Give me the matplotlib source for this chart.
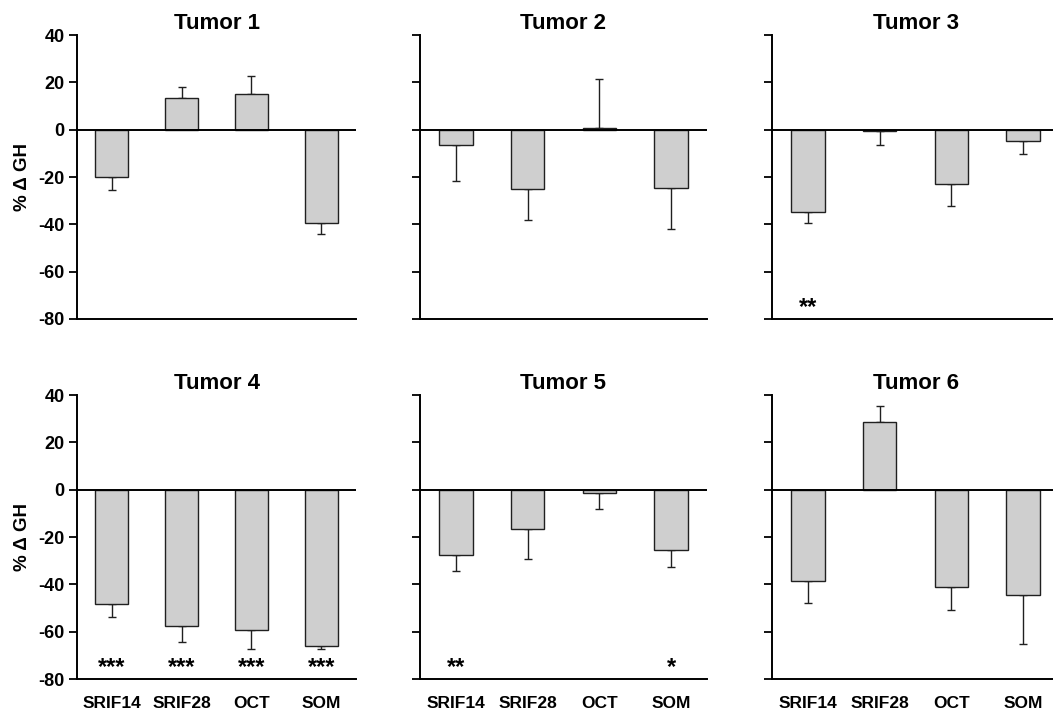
import matplotlib
matplotlib.use('Agg')
import matplotlib.pyplot as plt

plt.rcParams['font.family'] = ['Liberation Sans', 'DejaVu Sans']
plt.rcParams['font.weight'] = 'bold'
plt.rcParams['axes.unicode_minus'] = False

# Categories and values (% change in GH, mean and SEM)
categories = ['SRIF14', 'SRIF28', 'OCT', 'SOM']
titles = ['Tumor 1', 'Tumor 2', 'Tumor 3', 'Tumor 4', 'Tumor 5', 'Tumor 6']

tumor1 = [-20.0, 13.4, 15.1, -39.6]
tumor2 = [-6.5, -25.0, 0.5, -24.5]
tumor3 = [-35.0, -0.5, -23.0, -4.8]
tumor4 = [-48.2, -57.8, -59.4, -65.9]
tumor5 = [-27.8, -16.6, -1.5, -25.6]
tumor6 = [-38.6, 28.5, -41.3, -44.6]

err1 = [5.6, 4.6, 7.6, 4.5]
err2 = [15.0, 13.0, 21.0, 17.5]
err3 = [4.5, 6.0, 9.4, 5.5]
err4 = [5.4, 6.6, 7.8, 1.5]
err5 = [6.4, 12.7, 6.5, 7.0]
err6 = [9.1, 6.9, 9.5, 20.4]

stars1 = ['', '', '', '']
stars2 = ['', '', '', '']
stars3 = ['**', '', '', '']
stars4 = ['***', '***', '***', '***']
stars5 = ['**', '', '', '*']
stars6 = ['', '', '', '']

values = [tumor1, tumor2, tumor3, tumor4, tumor5, tumor6]
errors = [err1, err2, err3, err4, err5, err6]
stars = [stars1, stars2, stars3, stars4, stars5, stars6]

W, H = 1053, 711
fig = plt.figure(figsize=(W / 100, H / 100), dpi=100)

# panel boxes in pixels: left, top, width, height
lefts = [77, 420, 772]
widths = [279, 287, 287]
tops = [35, 395]
height = 284

x = list(range(len(categories)))
for i in range(6):
    r, c = divmod(i, 3)
    l, t, w = lefts[c], tops[r], widths[c]
    ax = fig.add_axes([l / W, 1 - (t + height) / H, w / W, height / H])

    vals = values[i]
    errs = errors[i]
    lower = [e if v < 0 else 0 for v, e in zip(vals, errs)]
    upper = [e if v >= 0 else 0 for v, e in zip(vals, errs)]
    ax.bar(x, vals, width=0.47, color='#cfcfcf', edgecolor='#202020', linewidth=1.0, zorder=2)
    ax.errorbar(x, vals, yerr=[lower, upper], fmt='none', ecolor='#202020',
                elinewidth=1.0, capsize=3, capthick=1.0, zorder=1)
    ax.axhline(0, color='black', linewidth=1.4, zorder=3)

    for xi, s in zip(x, stars[i]):
        if s:
            ax.text(xi, -75, s, ha='center', va='center', fontsize=17, fontweight='bold')

    ax.set_xlim(-0.5, 3.5)
    ax.set_ylim(-80, 40)
    ax.set_yticks(range(-80, 41, 20))
    ax.spines['top'].set_visible(False)
    ax.spines['right'].set_visible(False)
    ax.spines['left'].set_linewidth(1.4)
    ax.spines['bottom'].set_linewidth(1.4)
    ax.tick_params(axis='y', direction='out', length=6, width=1.3, pad=3, labelsize=13)
    ax.tick_params(axis='x', length=0, pad=12, labelsize=12.5)
    ax.set_title(titles[i], fontsize=16, fontweight='bold', pad=4)

    ax.set_xticks(x)
    if r == 1:
        ax.set_xticklabels(categories, fontweight='bold')
    else:
        ax.set_xticklabels([])
    if c == 0:
        ax.set_ylabel('% \u0394 GH', fontsize=13.5, fontweight='bold')
        ax.yaxis.set_label_coords(-0.165, 0.5)
    else:
        ax.set_yticklabels([])

fig.savefig('out.png', dpi=100)
